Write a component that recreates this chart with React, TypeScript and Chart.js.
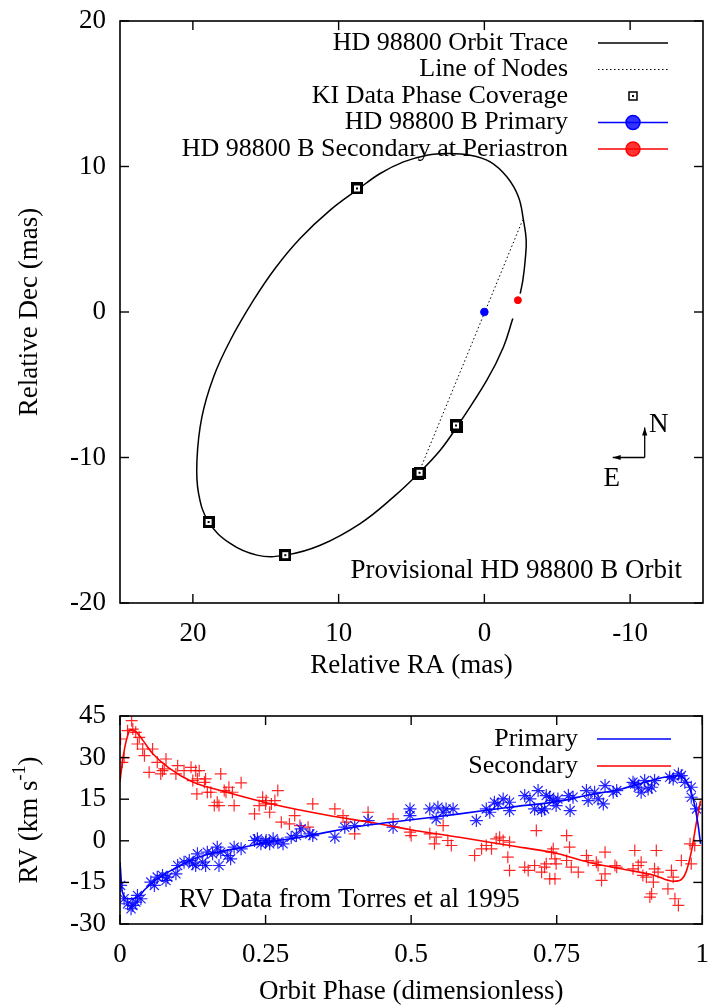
import React, { useEffect, useRef } from 'react';
import { Chart, registerables } from 'chart.js';

Chart.register(...registerables);

const SERIF = '"Liberation Serif", "Times New Roman", serif';
const FS = 27;
const LEG_FS = 26;

// ---------- Top panel: relative orbit ----------
const ORBIT_X_TICKS = [20, 10, 0, -10];
const ORBIT_Y_TICKS = [20, 10, 0, -10, -20];

const ORBIT_TRACE: [number, number][] = [
  [-1.95, -0.45], [-1.31, -2.4], [-0.17, -4.69], [1.89, -7.9], [3.03, -9.5],
  [4.52, -11.1], [6.23, -12.71], [8.52, -14.54], [11.26, -16.03], [13.66, -16.71],
  [15.6, -16.71], [17.44, -15.91], [18.92, -14.43], [19.61, -12.47], [19.72, -10.19],
  [19.38, -7.21], [18.58, -4.46], [17.43, -1.94], [15.84, 0.81], [14.35, 3.01],
  [12.63, 5.07], [10.58, 7.0], [8.66, 8.44], [7.15, 9.52], [5.55, 10.32],
  [3.94, 10.78], [2.57, 10.89], [0.97, 10.78], [-0.4, 10.32], [-1.54, 9.29],
  [-2.34, 7.91], [-2.68, 6.31], [-2.87, 4.93], [-2.8, 3.56], [-2.64, 2.19], [-2.46, 1.27],
];
const LINE_OF_NODES: [number, number][] = [[4.29, -10.53], [-2.62, 6.31]];
const KI_COVERAGE: [number, number][] = [
  [8.74, 8.49], [18.92, -14.43], [13.66, -16.71], [4.52, -11.1], [4.45, -11.05],
  [1.89, -7.9], [1.95, -7.8],
];
const PRIMARY_POS: [number, number][] = [[0, 0]];
const SECONDARY_PERIASTRON: [number, number][] = [[-2.3, 0.81]];
const TOP_LEGEND = [
  'HD 98800 Orbit Trace',
  'Line of Nodes',
  'KI Data Phase Coverage',
  'HD 98800 B Primary',
  'HD 98800 B Secondary at Periastron',
];

// ---------- Bottom panel: radial velocities ----------
const RV_X_TICKS = [0, 0.25, 0.5, 0.75, 1];
const RV_X_TICK_LABELS = ['0', '0.25', '0.5', '0.75', '1'];
const RV_Y_TICKS = [-30, -15, 0, 15, 30, 45];
const RV_LEGEND = ['Primary', 'Secondary'];

const PRIMARY_MODEL: [number, number][] = [
  [0, -7.7], [0.004, -18.4], [0.013, -20.9], [0.03, -20.3], [0.044, -17.3], [0.064, -13.7],
  [0.093, -10.1], [0.127, -6.5], [0.168, -4.1], [0.213, -2.3], [0.253, -0.5], [0.31, 1.3],
  [0.363, 3.4], [0.42, 5.5], [0.497, 7.5], [0.583, 9.7], [0.669, 12.1], [0.755, 14.3],
  [0.804, 16.5], [0.861, 18.7], [0.901, 21.1], [0.935, 22.9], [0.958, 23.5], [0.97, 22.3],
  [0.981, 17.5], [0.987, 12.7], [0.993, 5.5], [0.997, -1.1],
];
const SECONDARY_MODEL: [number, number][] = [
  [0, 21.5], [0.005, 29.7], [0.011, 36.3], [0.018, 40.1], [0.028, 39.2], [0.039, 36.3],
  [0.056, 31.5], [0.085, 26.1], [0.125, 21.2], [0.182, 17.6], [0.268, 12.9], [0.354, 9.3],
  [0.44, 6.3], [0.497, 4.1], [0.583, 1.3], [0.669, -1.7], [0.747, -4.4], [0.804, -7.7],
  [0.861, -10.1], [0.918, -12.5], [0.95, -14.6], [0.961, -14.3], [0.972, -11.3],
  [0.981, -4.1], [0.99, 6.7], [0.997, 14.5],
];
const PRIMARY_OBS: [number, number][] = [
  [0.001, -16.1], [0.007, -20.9], [0.013, -22.7], [0.022, -23.3], [0.027, -22.1], [0.03, -19.7],
  [0.036, -20.9], [0.019, -24.5], [0.053, -14.9], [0.059, -16.1], [0.064, -13.1], [0.073, -12.5],
  [0.082, -13.1], [0.079, -14.3], [0.096, -11.9], [0.099, -8.9], [0.11, -7.7], [0.119, -7.1],
  [0.125, -8.3], [0.133, -4.7], [0.13, -8.9], [0.142, -7.7], [0.147, -8.9], [0.15, -4.1],
  [0.159, -4.7], [0.167, -2.3], [0.17, -8.9], [0.173, -4.1], [0.185, -5.3], [0.19, -6.5],
  [0.196, -2.3], [0.208, -2.9], [0.231, 0.1], [0.236, 0.7], [0.242, -1.1], [0.25, -0.5],
  [0.251, 0.1], [0.257, -1.1], [0.263, 0.7], [0.271, -0.5], [0.28, -1.1], [0.294, 1.3],
  [0.303, 1.9], [0.311, 4.3], [0.326, 2.5], [0.331, 1.9], [0.369, 1.3], [0.386, 4.9],
  [0.403, 5.5], [0.426, 7.3], [0.469, 4.9], [0.498, 11.5], [0.498, 9.1],
  [0.532, 11.5], [0.543, 7.9], [0.546, 12.1], [0.555, 10.3], [0.56, 11.5], [0.572, 11.5],
  [0.612, 7.3], [0.629, 11.5], [0.635, 10.3], [0.643, 13.9], [0.649, 13.3], [0.658, 15.1],
  [0.669, 13.9], [0.669, 10.9], [0.695, 16.3], [0.704, 15.1], [0.712, 11.5], [0.718, 18.1],
  [0.724, 10.9], [0.729, 11.5], [0.732, 16.3], [0.738, 15.7], [0.744, 14.5], [0.749, 12.7],
  [0.752, 15.1], [0.77, 16.3], [0.773, 10.9], [0.778, 15.7], [0.801, 18.1], [0.804, 14.5],
  [0.815, 17.5], [0.821, 15.1], [0.83, 13.3], [0.833, 19.9], [0.847, 17.5], [0.853, 18.1],
  [0.881, 21.1], [0.884, 20.5], [0.89, 19.3], [0.895, 17.5], [0.901, 21.7], [0.907, 18.7],
  [0.913, 19.3], [0.918, 21.7], [0.944, 22.9], [0.95, 22.3], [0.959, 24.1], [0.964, 23.5],
  [0.97, 21.1], [0.981, 19.3], [0.981, 15.7], [0.99, 11.5],
];
const SECONDARY_OBS: [number, number][] = [
  [0.004, 28.3], [0.007, 30.0], [0.001, 36.7], [0.02, 43.3], [0.013, 39.7], [0.022, 40.3],
  [0.027, 39.1], [0.033, 37.3], [0.03, 34.9], [0.039, 33.1], [0.042, 30.7], [0.056, 33.1],
  [0.05, 24.7], [0.064, 28.3], [0.07, 24.1], [0.076, 25.9], [0.079, 29.5], [0.073, 25.3],
  [0.099, 27.1], [0.096, 24.1], [0.11, 25.3], [0.122, 26.5], [0.13, 25.3], [0.125, 21.7],
  [0.136, 25.3], [0.133, 22.3], [0.147, 22.3], [0.145, 21.1], [0.15, 17.5], [0.132, 16.9],
  [0.156, 17.5], [0.167, 13.9], [0.173, 24.1], [0.162, 12.7], [0.17, 12.7], [0.179, 18.1],
  [0.187, 19.3], [0.193, 17.5], [0.182, 17.5], [0.196, 12.7], [0.208, 20.9], [0.231, 9.7],
  [0.239, 12.7], [0.245, 15.7], [0.25, 13.3], [0.251, 14.5], [0.26, 13.3], [0.257, 10.3],
  [0.266, 14.5], [0.271, 18.1], [0.277, 6.7], [0.291, 6.1], [0.3, 9.1], [0.309, 5.5],
  [0.323, 4.9], [0.331, 13.3], [0.369, 11.5], [0.383, 9.1], [0.389, 6.7], [0.403, 2.5],
  [0.426, 10.3], [0.469, 7.9], [0.498, 3.1], [0.5, 1.9], [0.532, 2.5], [0.543, 1.3],
  [0.54, -1.1], [0.555, 5.5], [0.563, 0.1], [0.569, -1.7], [0.609, -5.3], [0.621, -2.9],
  [0.629, -1.7], [0.638, -2.9], [0.646, 0.7], [0.652, 1.3], [0.658, 0.1], [0.669, -0.5],
  [0.666, -5.9], [0.669, -10.7], [0.695, -9.5], [0.701, -10.7], [0.712, -8.9], [0.715, 3.7],
  [0.724, -11.3], [0.729, -9.5], [0.732, -8.3], [0.738, -13.7], [0.744, -2.9], [0.747, -13.7],
  [0.749, -8.3], [0.741, -4.1], [0.747, -6.5], [0.767, 1.9], [0.772, -2.3], [0.767, -7.1],
  [0.775, -9.5], [0.787, -11.3], [0.801, -5.3], [0.804, -7.1], [0.818, -7.7], [0.821, -8.9],
  [0.827, -14.3], [0.833, -11.9], [0.833, -4.1], [0.85, -8.9], [0.853, -9.5], [0.884, -3.5],
  [0.881, -10.1], [0.89, -8.9], [0.895, -7.7], [0.898, -12.5], [0.904, -13.1], [0.91, -20.3],
  [0.913, -19.1], [0.916, -14.9], [0.918, -10.1], [0.921, -3.5], [0.924, -11.3], [0.941, -17.3],
  [0.947, -10.7], [0.95, -13.1], [0.953, -20.9], [0.959, -23.3], [0.964, -7.1], [0.979, -1.1],
  [0.987, -1.7], [0.981, -8.3],
];

const BLUE = '#0000ff';
const RED = '#ff0000';

const pts = (a: [number, number][]) => a.map(([x, y]) => ({ x, y }));

function txt(ctx: CanvasRenderingContext2D, s: string, x: number, y: number, align: CanvasTextAlign, size = FS) {
  ctx.font = `${size}px ${SERIF}`;
  ctx.fillStyle = '#000';
  ctx.textAlign = align;
  ctx.textBaseline = 'middle';
  ctx.fillText(s, x, y);
}

function vtxt(ctx: CanvasRenderingContext2D, s: string, x: number, y: number, sup?: string) {
  ctx.save();
  ctx.translate(x, y);
  ctx.rotate(-Math.PI / 2);
  ctx.font = `${FS}px ${SERIF}`;
  ctx.fillStyle = '#000';
  ctx.textBaseline = 'middle';
  if (!sup) {
    ctx.textAlign = 'center';
    ctx.fillText(s, 0, 0);
  } else {
    const [pre, post] = s.split('|');
    const small = `${Math.round(FS * 0.68)}px ${SERIF}`;
    const w1 = ctx.measureText(pre).width;
    const w3 = ctx.measureText(post).width;
    ctx.font = small;
    const w2 = ctx.measureText(sup).width;
    const total = w1 + w2 + w3;
    let cx = -total / 2;
    ctx.textAlign = 'left';
    ctx.font = `${FS}px ${SERIF}`;
    ctx.fillText(pre, cx, 0);
    cx += w1;
    ctx.font = small;
    ctx.fillText(sup, cx, -10);
    cx += w2;
    ctx.font = `${FS}px ${SERIF}`;
    ctx.fillText(post, cx, 0);
  }
  ctx.restore();
}

function line(ctx: CanvasRenderingContext2D, x1: number, y1: number, x2: number, y2: number) {
  ctx.beginPath();
  ctx.moveTo(x1, y1);
  ctx.lineTo(x2, y2);
  ctx.stroke();
}

function drawFrame(chart: any) {
  const { ctx, chartArea: a, scales } = chart;
  const sx = scales.x;
  const sy = scales.y;
  ctx.save();
  ctx.strokeStyle = '#000';
  ctx.lineWidth = 1.6;
  ctx.setLineDash([]);
  ctx.strokeRect(a.left, a.top, a.right - a.left, a.bottom - a.top);
  ctx.lineWidth = 1.4;
  const L = 9;
  sx.ticks.forEach((t: any) => {
    const p = sx.getPixelForValue(t.value);
    line(ctx, p, a.bottom, p, a.bottom - L);
    line(ctx, p, a.top, p, a.top + L);
  });
  sy.ticks.forEach((t: any) => {
    const p = sy.getPixelForValue(t.value);
    line(ctx, a.left, p, a.left + L, p);
    line(ctx, a.right, p, a.right - L, p);
  });
  ctx.restore();
}

function arrow(ctx: CanvasRenderingContext2D, x1: number, y1: number, x2: number, y2: number) {
  line(ctx, x1, y1, x2, y2);
  const ang = Math.atan2(y2 - y1, x2 - x1);
  const hl = 8;
  const hw = 2.6;
  ctx.beginPath();
  ctx.moveTo(x2, y2);
  ctx.lineTo(x2 - hl * Math.cos(ang) + hw * Math.sin(ang), y2 - hl * Math.sin(ang) - hw * Math.cos(ang));
  ctx.lineTo(x2 - hl * Math.cos(ang) - hw * Math.sin(ang), y2 - hl * Math.sin(ang) + hw * Math.cos(ang));
  ctx.closePath();
  ctx.fill();
}

const topDecor = {
  id: 'topDecor',
  afterDraw(chart: any) {
    const { ctx, chartArea: a, scales } = chart;
    drawFrame(chart);
    ctx.save();
    txt(ctx, 'Relative RA (mas)', (a.left + a.right) / 2, 666, 'center');
    vtxt(ctx, 'Relative Dec (mas)', 30, (a.top + a.bottom) / 2);

    // legend
    const tx = 568;
    const l1 = 598;
    const l2 = 668;
    const mx = (l1 + l2) / 2;
    TOP_LEGEND.forEach((label, i) => {
      const y = 43 + i * 26.5;
      txt(ctx, label, tx, y, 'right', LEG_FS);
      ctx.save();
      ctx.setLineDash([]);
      if (i === 0) {
        ctx.strokeStyle = '#000';
        ctx.lineWidth = 1.5;
        line(ctx, l1, y, l2, y);
      } else if (i === 1) {
        ctx.strokeStyle = '#000';
        ctx.lineWidth = 1;
        ctx.setLineDash([1.5, 2.5]);
        line(ctx, l1, y, l2, y);
      } else if (i === 2) {
        ctx.strokeStyle = '#000';
        ctx.lineWidth = 1.5;
        ctx.strokeRect(mx - 4, y - 4, 8, 8);
        ctx.fillStyle = '#000';
        ctx.fillRect(mx - 1, y - 1, 2, 2);
      } else {
        const col = i === 3 ? BLUE : RED;
        ctx.strokeStyle = col;
        ctx.lineWidth = 1.5;
        line(ctx, l1, y, l2, y);
        ctx.beginPath();
        ctx.arc(mx, y, 7, 0, Math.PI * 2);
        ctx.fillStyle = col;
        ctx.globalAlpha = 0.8;
        ctx.fill();
        ctx.globalAlpha = 1;
        ctx.stroke();
      }
      ctx.restore();
    });

    txt(ctx, 'Provisional HD 98800 B Orbit', 682, 571, 'right');

    // compass
    const ox = scales.x.getPixelForValue(-11);
    const oy = scales.y.getPixelForValue(-10);
    ctx.strokeStyle = '#000';
    ctx.fillStyle = '#000';
    ctx.lineWidth = 1.3;
    arrow(ctx, ox, oy, ox, oy - 30);
    arrow(ctx, ox, oy, ox - 32, oy);
    txt(ctx, 'N', ox + 14, oy - 33, 'center');
    txt(ctx, 'E', ox - 33, oy + 21, 'center');
    ctx.restore();
  },
};

const botDecor = {
  id: 'botDecor',
  afterDraw(chart: any) {
    const { ctx, chartArea: a } = chart;
    drawFrame(chart);
    ctx.save();
    txt(ctx, 'Orbit Phase (dimensionless)', (a.left + a.right) / 2, 312, 'center');
    vtxt(ctx, 'RV (km s|)', 30, (a.top + a.bottom) / 2, '-1');
    const cols = [BLUE, RED];
    RV_LEGEND.forEach((label, i) => {
      const y = 59 + i * 27;
      txt(ctx, label, 578, y, 'right', LEG_FS);
      ctx.strokeStyle = cols[i];
      ctx.lineWidth = 1.5;
      line(ctx, 597, y, 671, y);
    });
    txt(ctx, 'RV Data from Torres et al 1995', 179, 220, 'left');
    ctx.restore();
  },
};

function makeSquareMarker(): HTMLCanvasElement {
  const c = document.createElement('canvas');
  c.width = 12;
  c.height = 12;
  const g = c.getContext('2d')!;
  g.fillStyle = '#000';
  g.fillRect(0, 0, 12, 12);
  g.fillStyle = '#fff';
  g.fillRect(3, 3, 6, 6);
  g.fillStyle = '#000';
  g.fillRect(5, 5, 2, 2);
  return c;
}

const tickFont = { family: SERIF, size: FS };

const fitX = (h: number) => (s: any) => {
  s.height = h;
  s.paddingLeft = 0;
  s.paddingRight = 0;
  s.paddingTop = 0;
  s.paddingBottom = 0;
};
const fitY = (w: number) => (s: any) => {
  s.width = w;
  s.paddingLeft = 0;
  s.paddingRight = 0;
  s.paddingTop = 0;
  s.paddingBottom = 0;
};

export default function App() {
  const topRef = useRef<HTMLCanvasElement>(null);
  const botRef = useRef<HTMLCanvasElement>(null);

  useEffect(() => {
    const sq = makeSquareMarker();
    const top = new Chart(topRef.current!, {
      type: 'scatter',
      data: {
        datasets: [
          {
            label: TOP_LEGEND[2],
            data: pts(KI_COVERAGE),
            pointStyle: sq as any,
            pointRadius: 6,
            showLine: false,
          },
          {
            label: TOP_LEGEND[3],
            data: pts(PRIMARY_POS),
            pointStyle: 'circle',
            pointRadius: 3.8,
            backgroundColor: BLUE,
            borderColor: BLUE,
            showLine: false,
          },
          {
            label: TOP_LEGEND[4],
            data: pts(SECONDARY_PERIASTRON),
            pointStyle: 'circle',
            pointRadius: 3.5,
            backgroundColor: RED,
            borderColor: RED,
            showLine: false,
          },
          {
            label: TOP_LEGEND[0],
            data: pts(ORBIT_TRACE),
            showLine: true,
            tension: 0.4,
            borderColor: '#000',
            borderWidth: 1.5,
            pointRadius: 0,
          },
          {
            label: TOP_LEGEND[1],
            data: pts(LINE_OF_NODES),
            showLine: true,
            borderColor: '#000',
            borderWidth: 1,
            borderDash: [1.5, 2.5],
            pointRadius: 0,
          },
        ],
      },
      options: {
        animation: false,
        responsive: false,
        maintainAspectRatio: false,
        layout: { padding: { left: 0, right: 7, top: 21, bottom: 0 } },
        plugins: { legend: { display: false }, tooltip: { enabled: false } },
        scales: {
          x: {
            type: 'linear',
            min: -15,
            max: 25,
            reverse: true,
            afterBuildTicks: (s: any) => { s.ticks = ORBIT_X_TICKS.map((v) => ({ value: v })); },
            afterFit: fitX(77),
            grid: { display: false, drawTicks: false },
            border: { display: false },
            ticks: { font: tickFont, color: '#000', padding: 15, maxRotation: 0, autoSkip: false, callback: (v: any) => String(v) },
          },
          y: {
            type: 'linear',
            min: -20,
            max: 20,
            afterBuildTicks: (s: any) => { s.ticks = ORBIT_Y_TICKS.map((v) => ({ value: v })); },
            afterFit: fitY(120),
            grid: { display: false, drawTicks: false },
            border: { display: false },
            ticks: { font: tickFont, color: '#000', padding: 14, autoSkip: false, callback: (v: any) => String(v) },
          },
        },
      },
      plugins: [topDecor],
    } as any);

    const bot = new Chart(botRef.current!, {
      type: 'scatter',
      data: {
        datasets: [
          {
            label: RV_LEGEND[0],
            data: pts(PRIMARY_MODEL),
            showLine: true,
            cubicInterpolationMode: 'monotone',
            borderColor: BLUE,
            borderWidth: 1.6,
            pointRadius: 0,
          },
          {
            label: RV_LEGEND[1],
            data: pts(SECONDARY_MODEL),
            showLine: true,
            cubicInterpolationMode: 'monotone',
            borderColor: RED,
            borderWidth: 1.6,
            pointRadius: 0,
          },
          {
            label: 'Primary data',
            data: pts(PRIMARY_OBS),
            pointStyle: 'star',
            pointRadius: 6.5,
            borderColor: 'rgba(0,0,255,0.85)',
            borderWidth: 1.2,
            showLine: false,
          },
          {
            label: 'Secondary data',
            data: pts(SECONDARY_OBS),
            pointStyle: 'cross',
            pointRadius: 6,
            borderColor: 'rgba(255,0,0,0.85)',
            borderWidth: 1.2,
            showLine: false,
          },
        ],
      },
      options: {
        animation: false,
        responsive: false,
        maintainAspectRatio: false,
        layout: { padding: { left: 0, right: 7, top: 36, bottom: 0 } },
        plugins: { legend: { display: false }, tooltip: { enabled: false } },
        scales: {
          x: {
            type: 'linear',
            min: 0,
            max: 1,
            afterBuildTicks: (s: any) => { s.ticks = RV_X_TICKS.map((v) => ({ value: v })); },
            afterFit: fitX(81),
            grid: { display: false, drawTicks: false },
            border: { display: false },
            ticks: {
              font: tickFont, color: '#000', padding: 15, maxRotation: 0, autoSkip: false,
              callback: (_v: any, i: number) => RV_X_TICK_LABELS[i],
            },
          },
          y: {
            type: 'linear',
            min: -30,
            max: 45,
            afterBuildTicks: (s: any) => { s.ticks = RV_Y_TICKS.map((v) => ({ value: v })); },
            afterFit: fitY(120),
            grid: { display: false, drawTicks: false },
            border: { display: false },
            ticks: { font: tickFont, color: '#000', padding: 14, autoSkip: false, callback: (v: any) => String(v) },
          },
        },
      },
      plugins: [botDecor],
    } as any);

    return () => {
      top.destroy();
      bot.destroy();
    };
  }, []);

  return (
    <div style={{ position: 'absolute', left: 0, top: 0, width: 710, height: 1005, background: '#fff' }}>
      <canvas ref={topRef} width={710} height={680} style={{ position: 'absolute', left: 0, top: 0, width: 710, height: 680 }} />
      <canvas ref={botRef} width={710} height={325} style={{ position: 'absolute', left: 0, top: 680, width: 710, height: 325 }} />
    </div>
  );
}
